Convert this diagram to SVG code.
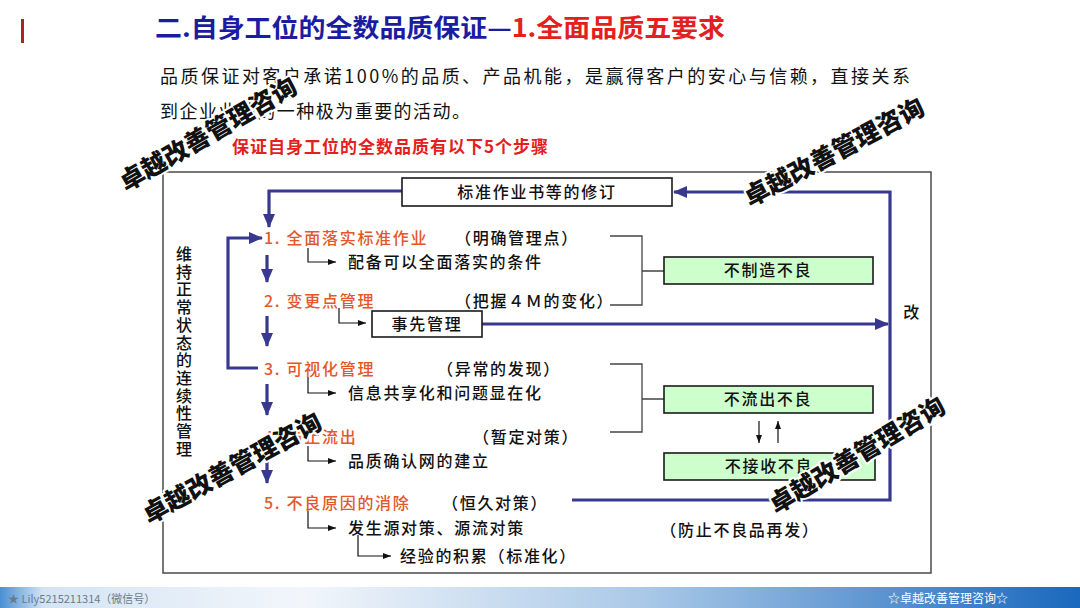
<svg xmlns="http://www.w3.org/2000/svg" width="1080" height="608" viewBox="0 0 1080 608">
<defs>
<linearGradient id="foot" x1="0" y1="0" x2="1" y2="0">
<stop offset="0" stop-color="#4a8fd4"/>
<stop offset="0.04" stop-color="#d4e4f4"/>
<stop offset="0.28" stop-color="#f2f6fb"/>
<stop offset="0.6" stop-color="#a9c8e7"/>
<stop offset="1" stop-color="#1a68bd"/>
</linearGradient>
<marker id="ab" markerUnits="userSpaceOnUse" markerWidth="14" markerHeight="12" refX="13" refY="6" orient="auto">
<path d="M0,0 L14,6 L0,12 z" fill="#38388f"/>
</marker>
<marker id="ak" markerUnits="userSpaceOnUse" markerWidth="8" markerHeight="6" refX="8" refY="3" orient="auto">
<path d="M0,0 L8,3 L0,6 z" fill="#111"/>
</marker>
<style>
.cjk{font-family:"Noto Sans CJK SC","Noto Sans",sans-serif}
.step{font-family:"Noto Sans CJK SC",sans-serif;font-size:16px;font-weight:500;letter-spacing:1.7px;fill:#111}
.st{fill:#e4572a}
.blue{fill:none;stroke:#38388f;stroke-width:3.2}
.blk{fill:none;stroke:#111;stroke-width:1.2}
.brk{fill:none;stroke:#444;stroke-width:1.3}
.gbox{fill:#ccffcc;stroke:#1a1a1a;stroke-width:1.6}
.wbox{fill:#fff;stroke:#1a1a1a;stroke-width:1.6}
.wm{font-family:"Noto Sans CJK SC",sans-serif;font-size:25px;font-weight:900;fill:#111;stroke:#fff;stroke-width:4;paint-order:stroke;stroke-linejoin:round}
</style>
</defs>
<rect width="1080" height="608" fill="#fff"/>

<g id="header">
<rect x="21" y="19" width="3" height="24" fill="#a02828"/>
<text x="155" y="37" class="cjk" font-size="25" font-weight="700" textLength="570" lengthAdjust="spacingAndGlyphs"><tspan fill="#1c1ca0">二.自身工位的全数品质保证—</tspan><tspan fill="#e4201c">1.全面品质五要求</tspan></text>
</g>

<g id="intro" class="cjk" font-size="18" fill="#111">
<text x="160" y="83" textLength="750" lengthAdjust="spacing">品质保证对客户承诺100%的品质、产品机能，是赢得客户的安心与信赖，直接关系</text>
<text x="160" y="118" textLength="310" lengthAdjust="spacing">到企业业绩的一种极为重要的活动。</text>
<text x="232" y="153" font-size="17" font-weight="700" fill="#e4201c" textLength="316" lengthAdjust="spacing">保证自身工位的全数品质有以下5个步骤</text>
</g>

<g id="frame">
<rect x="163" y="172" width="768" height="401" fill="none" stroke="#4a4a4a" stroke-width="1.5"/>
</g>

<g id="connectors">
<path class="blue" d="M402,191 H269 V227" marker-end="url(#ab)"/>
<path class="blue" d="M572,500 H890 V192 H674" marker-end="url(#ab)"/>
<path class="blue" d="M482,324 H888" marker-end="url(#ab)"/>
<path class="blue" d="M258,368 H228 V238 H262" marker-end="url(#ab)"/>
<path class="blue" d="M267,255 V282" marker-end="url(#ab)"/>
<path class="blue" d="M267,316 V346" marker-end="url(#ab)"/>
<path class="blue" d="M267,384 V415" marker-end="url(#ab)"/>
<path class="blue" d="M267,456 V483" marker-end="url(#ab)"/>
<path class="blk" d="M308,248 V262 H336" marker-end="url(#ak)"/>
<path class="blk" d="M339,308 V323 H366" marker-end="url(#ak)"/>
<path class="blk" d="M308,377 V393 H336" marker-end="url(#ak)"/>
<path class="blk" d="M308,446 V461 H336" marker-end="url(#ak)"/>
<path class="blk" d="M308,511 V528 H336" marker-end="url(#ak)"/>
<path class="blk" d="M358,535 V556 H391" marker-end="url(#ak)"/>
<path class="brk" d="M610,236 H642 V305 H610 M642,271 H664"/>
<path class="brk" d="M610,364 H642 V432 H610 M642,399 H664"/>
<path class="blk" d="M759,421 V443" marker-end="url(#ak)"/>
<path class="blk" d="M778,443 V421" marker-end="url(#ak)"/>
</g>

<g id="node-revise">
<rect class="wbox" x="402" y="178" width="270" height="28"/>
<text class="step" x="537" y="198" text-anchor="middle" letter-spacing="3">标准作业书等的修订</text>
</g>

<g id="node-side">
<text class="step" x="184" y="246" font-size="15" letter-spacing="3.2" writing-mode="tb">维持正常状态的连续性管理</text>
</g>

<g id="node-step1">
<text class="step st" x="264" y="244">1. 全面落实标准作业</text>
<text class="step" x="455" y="244" letter-spacing="0">（明确管理点）</text>
<text class="step" x="348" y="268">配备可以全面落实的条件</text>
</g>

<g id="node-step2">
<text class="step st" x="264" y="307">2. 变更点管理</text>
<text class="step" x="455" y="307" letter-spacing="0">（把握４Ｍ的变化）</text>
</g>

<g id="node-prior">
<rect class="wbox" x="372" y="311" width="110" height="26"/>
<text class="step" x="427" y="330" text-anchor="middle">事先管理</text>
</g>

<text id="node-kai" class="step" x="912" y="318" text-anchor="middle">改</text>

<g id="node-step3">
<text class="step st" x="264" y="375">3. 可视化管理</text>
<text class="step" x="437" y="375" letter-spacing="0">（异常的发现）</text>
<text class="step" x="348" y="399">信息共享化和问题显在化</text>
</g>

<g id="node-step4">
<text class="step st" x="264" y="443">4. 防止流出</text>
<text class="step" x="473" y="443" letter-spacing="0">（暂定对策）</text>
<text class="step" x="348" y="467">品质确认网的建立</text>
</g>

<g id="node-step5">
<text class="step st" x="264" y="509">5. 不良原因的消除</text>
<text class="step" x="442" y="509" letter-spacing="0">（恒久对策）</text>
<text class="step" x="348" y="534">发生源对策、源流对策</text>
<text class="step" x="400" y="562" letter-spacing="1">经验的积累（标准化）</text>
</g>

<g id="node-nomake">
<rect class="gbox" x="664" y="257" width="209" height="27"/>
<text class="step" x="768" y="276" text-anchor="middle">不制造不良</text>
</g>
<g id="node-nopass">
<rect class="gbox" x="664" y="386" width="209" height="27"/>
<text class="step" x="768" y="405" text-anchor="middle">不流出不良</text>
</g>
<g id="node-noaccept">
<rect class="gbox" x="664" y="453" width="211" height="27"/>
<text class="step" x="769" y="472" text-anchor="middle">不接收不良</text>
</g>
<text id="node-prevent" class="step" x="740" y="536" text-anchor="middle" letter-spacing="1">（防止不良品再发）</text>

<g id="watermarks">
<text class="wm" x="208" y="143" text-anchor="middle" transform="rotate(-30 208 134)">卓越改善管理咨询</text>
<text class="wm" x="834" y="161" text-anchor="middle" transform="rotate(-28 834 152)">卓越改善管理咨询</text>
<text class="wm" x="232" y="477" text-anchor="middle" transform="rotate(-29 232 468)">卓越改善管理咨询</text>
<text class="wm" x="857" y="464" text-anchor="middle" transform="rotate(-31 857 455)">卓越改善管理咨询</text>
</g>

<g id="footer">
<rect x="0" y="587" width="1080" height="21" fill="url(#foot)"/>
<text x="8" y="603" class="cjk" font-size="11" fill="#6a7a8c">★ Lily5215211314（微信号）</text>
<text x="948" y="603" class="cjk" font-size="12" fill="#fff" text-anchor="middle">☆卓越改善管理咨询☆</text>
</g>
</svg>
